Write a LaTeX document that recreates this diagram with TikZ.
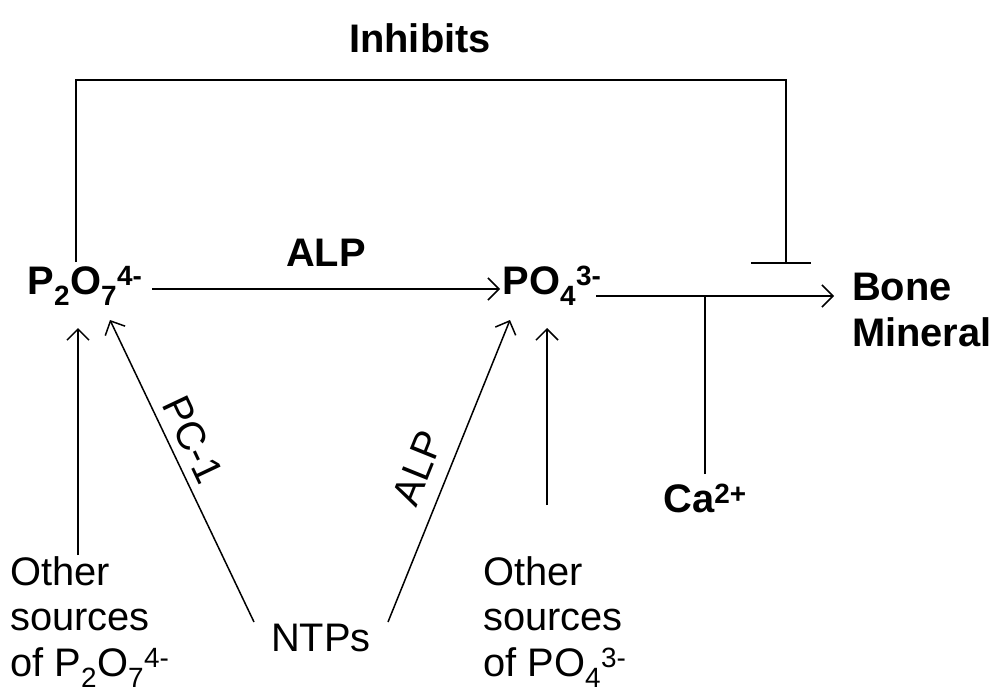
\documentclass[tikz,border=0pt]{standalone}
\usepackage{fontspec}
\setmainfont{Liberation Sans}
\usetikzlibrary{arrows.meta}
\begin{document}
\begin{tikzpicture}[x=1bp,y=-1bp,
  every node/.style={inner sep=0pt, font=\fontsize{40}{46}\selectfont},
  bold/.style={font=\fontsize{40}{47}\selectfont\bfseries},
  conn/.style={line width=1.5bp},
  arr/.style={conn, -{Straight Barb[length=11bp,width=22bp,line width=1.5bp]}}]
\useasboundingbox (0,0) rectangle (1000,693);
% nodes
\node[bold] (inh) at (420,38) {Inhibits};
\node[bold] (p2o7) at (85,286) {P\textsubscript{2}O\textsubscript{7}\textsuperscript{4-}};
\node[bold] (po4) at (552,286) {PO\textsubscript{4}\textsuperscript{3-}};
\node[bold, anchor=west, align=left] (bone) at (852,310) {Bone\\Mineral};
\node[bold] (ca) at (705,498) {Ca\textsuperscript{2+}};
\node (ntps) at (321,638) {NTPs};
\node[anchor=north west, align=left] (os1) at (10,556) {Other\\sources\\of P\textsubscript{2}O\textsubscript{7}\textsuperscript{4-}};
\node[anchor=north west, align=left] (os2) at (483,556) {Other\\sources\\of PO\textsubscript{4}\textsuperscript{3-}};
% coordinates
\coordinate (ptop) at (76,262);
\coordinate (inhc) at (786,80);
\coordinate (tbar) at (786,263);
\coordinate (tl) at (751,263);
\coordinate (tr) at (811,263);
\coordinate (alps) at (152,289);
\coordinate (alpe) at (500,289);
\coordinate (mins) at (596,296);
\coordinate (mine) at (834,296);
\coordinate (cajoin) at (705,296);
\coordinate (catop) at (705,474);
\coordinate (os1top) at (78,555);
\coordinate (os1tip) at (78,328);
\coordinate (os2top) at (547,505);
\coordinate (os2tip) at (547,328);
\coordinate (pcs) at (254,622);
\coordinate (pce) at (110,320);
\coordinate (alp2s) at (388,622);
\coordinate (alp2e) at (510,320);
% connectors
\draw[conn] (ptop) |- (inhc) -- (tbar);
\draw[conn] (tl) -- (tr);
\draw[arr] (alps) -- node[bold, above=22bp] (alplab) {ALP} (alpe);
\draw[arr] (mins) -- (mine);
\draw[conn] (catop) -- (cajoin);
\draw[arr] (os1top) -- (os1tip);
\draw[arr] (os2top) -- (os2tip);
\draw[arr] (pcs) -- (pce);
\draw[arr] (alp2s) -- (alp2e);
\node[rotate=-64.7] (pclab) at (193,440) {PC-1};
\node[rotate=68] (alp2lab) at (418,468) {ALP};
\end{tikzpicture}
\end{document}
